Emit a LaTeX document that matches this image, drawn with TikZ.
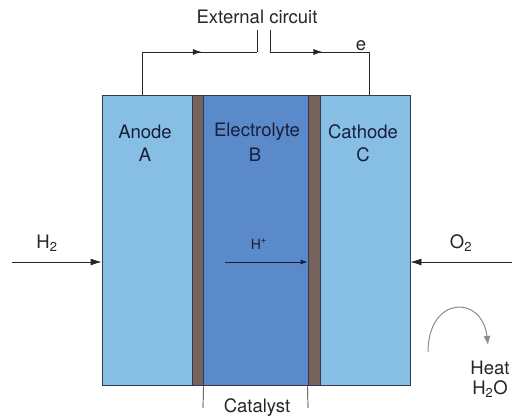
\documentclass[tikz,border=0pt]{standalone}
\usepackage{fontspec}
\setmainfont{TeX Gyre Heros}
\usetikzlibrary{arrows.meta,decorations.markings}
\definecolor{elec}{RGB}{134,190,228}
\definecolor{lyte}{RGB}{90,138,202}
\definecolor{cata}{RGB}{118,100,92}
\definecolor{edge}{RGB}{50,60,80}
\definecolor{ink}{RGB}{25,30,60}
\tikzset{
  layer/.style={draw=edge,line width=0.8pt,minimum height=290pt,inner sep=0pt,anchor=center},
  lbl/.style={font=\fontsize{18.5}{20}\selectfont,text=ink,inner sep=0pt},
  txt/.style={font=\fontsize{18.5}{20}\selectfont,text=black!85,inner sep=0pt},
  wire/.style={line width=0.8pt,draw=black!85},
  tip/.style={-{Latex[length=11pt,width=7pt]}},
  midarrow/.style={postaction={decorate},decoration={markings,mark=at position #1 with {\arrow{Latex[length=9pt,width=6pt]}}}}
}
\begin{document}
\begin{tikzpicture}[x=1pt,y=-1pt]
\useasboundingbox (0,0) rectangle (512,419);
\fill[white] (0,0) rectangle (512,419);
% layers
\node[layer,fill=elec,minimum width=90pt] (A) at (147,240) {};
\node[layer,fill=cata,minimum width=11pt] (K1) at (197.5,240) {};
\node[layer,fill=lyte,minimum width=105pt] (B) at (255.5,240) {};
\node[layer,fill=cata,minimum width=12pt] (K2) at (314,240) {};
\node[layer,fill=elec,minimum width=90pt] (C) at (365,240) {};
% labels
\node[lbl] (la) at (145,132) {Anode};
\node[lbl] (la2) at (145,155) {A};
\node[lbl] (lb) at (257,132) {Electrolyte};
\node[lbl] (lb2) at (255,155) {B};
\node[lbl] (lc) at (363,132) {Cathode};
\node[lbl] (lc2) at (363,155) {C};
% external circuit
\node[txt] (ext) at (257,17) {External circuit};
\coordinate (w1) at (142,95);
\coordinate (w2) at (142,52);
\coordinate (w3) at (257,52);
\coordinate (w4) at (257,30);
\coordinate (w5) at (270,30);
\coordinate (w6) at (270,52);
\coordinate (w7) at (369,52);
\coordinate (w8) at (369,95);
\draw[wire] (w1) -- (w2);
\draw[wire,midarrow=0.52] (w2) -- (w3);
\draw[wire] (w3) -- (w4);
\draw[wire] (w5) -- (w6);
\draw[wire,midarrow=0.53] (w6) -- (w7);
\draw[wire] (w7) -- (w8);
\node[txt] (e) at (361,46) {e};
% gases
\node[txt] (h2) at (47,243) {H\textsubscript{2}};
\coordinate (h2s) at (12,262);
\draw[wire,tip] (h2s) -- (A.west |- h2s);
\node[txt] (o2) at (461,243) {O\textsubscript{2}};
\coordinate (o2s) at (512,262);
\draw[wire,tip] (o2s) -- (C.east |- o2s);
% proton
\node[lbl,font=\fontsize{14}{16}\selectfont] (hp) at (259,244) {H\textsuperscript{+}};
\coordinate (hps) at (225,262);
\draw[line width=0.9pt,draw=ink,-{Latex[length=7pt,width=5pt]}] (hps) -- (K2.west |- hps);
% heat
\coordinate (hs) at (428,352);
\coordinate (he) at (488,345);
\draw[line width=1pt,draw=black!45,-{Latex[length=9pt,width=7pt]}] (hs) .. controls (428,296) and (482,294) .. (he);
\node[txt] (heat) at (490,368) {Heat};
\node[txt] (h2o) at (490,389) {H\textsubscript{2}O};
% catalyst
\coordinate (c1) at (203,408);
\coordinate (c2) at (308,408);
\draw[wire,line width=0.7pt] (K1.south east) -- (c1);
\draw[wire,line width=0.7pt] (K2.south west) -- (c2);
\node[txt] (cat) at (257,408) {Catalyst};
\end{tikzpicture}
\end{document}
